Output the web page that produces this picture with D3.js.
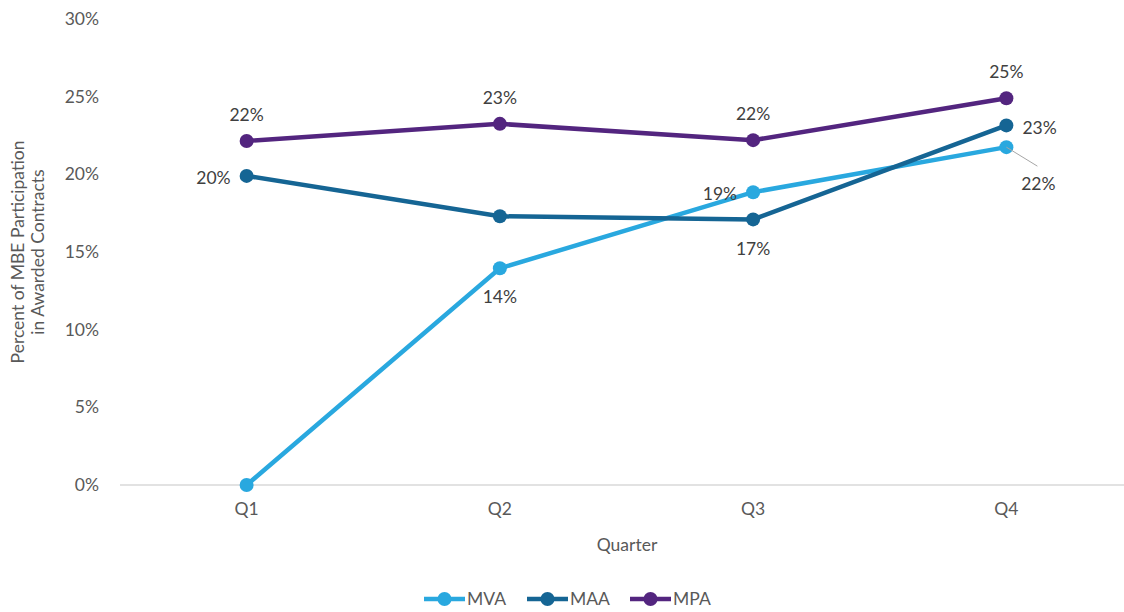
<!DOCTYPE html>
<html>
<head>
<meta charset="utf-8">
<script src="https://cdn.jsdelivr.net/npm/d3@7"></script>
<style>
  body { margin: 0; background: #fff; }
  svg { font-family: Lato, "Open Sans", sans-serif; }
</style>
</head>
<body>
<svg id="chart" width="1124" height="612"></svg>
<script>
// chart data
var quarters = ["Q1", "Q2", "Q3", "Q4"];
var mvaValues = [0, 13.95, 18.85, 21.75];
var maaValues = [19.9, 17.3, 17.1, 23.15];
var mpaValues = [22.15, 23.25, 22.2, 24.9];
var yTicks = [0, 5, 10, 15, 20, 25, 30];

// label placement per point: null = no label
var mvaLabels = [null, "below", "left", "leader"];
var maaLabels = ["left", null, "below", "right"];
var mpaLabels = ["above", "above", "above", "above"];

var series = [
    {name: "MVA", values: mvaValues, labels: mvaLabels, color: "#29a8df"},
    {name: "MAA", values: maaValues, labels: maaLabels, color: "#156594"},
    {name: "MPA", values: mpaValues, labels: mpaLabels, color: "#53257f"}
];

var fontSize = 17.5;

var svg = d3.select("#chart"),
    margin = {left: 120, right: -9, top: 19, bottom: 127},
    width = 1124 - margin.left - margin.right,
    height = 612 - margin.top - margin.bottom;

var g = svg.append("g").attr("transform", "translate(" + margin.left + "," + margin.top + ")");

var x = d3.scalePoint().domain(quarters).range([0, width]).padding(0.5);
var y = d3.scaleLinear().domain([0, 30]).range([height, 0]);

// y tick labels (no gridlines in the reference)
g.selectAll(".ytick").data(yTicks).enter().append("text")
    .attr("x", -21)
    .attr("y", function(d) { return y(d); })
    .attr("dy", "0.35em")
    .attr("text-anchor", "end")
    .attr("fill", "#595959")
    .attr("font-size", fontSize)
    .text(function(d) { return d + "%"; });

// baseline
g.append("line")
    .attr("x1", 0).attr("x2", width)
    .attr("y1", y(0)).attr("y2", y(0))
    .attr("stroke", "#d9d9d9").attr("stroke-width", 1.3);

// x tick labels
g.selectAll(".xtick").data(quarters).enter().append("text")
    .attr("x", function(d) { return x(d); })
    .attr("y", height + 30)
    .attr("text-anchor", "middle")
    .attr("fill", "#595959")
    .attr("font-size", fontSize)
    .text(function(d) { return d; });

// axis titles
svg.append("text")
    .attr("x", 627).attr("y", 551)
    .attr("text-anchor", "middle")
    .attr("fill", "#595959")
    .attr("font-size", fontSize)
    .text("Quarter");

var yTitle = svg.append("text")
    .attr("transform", "translate(24," + (margin.top + height / 2) + ") rotate(-90)")
    .attr("text-anchor", "middle")
    .attr("fill", "#595959")
    .attr("font-size", fontSize);
yTitle.append("tspan").attr("x", 0).attr("dy", 0).text("Percent of MBE Participation");
yTitle.append("tspan").attr("x", 0).attr("dy", 20).text("in Awarded Contracts");

var line = d3.line()
    .x(function(d, i) { return x(quarters[i]); })
    .y(function(d) { return y(d); });

series.forEach(function(s) {
    g.append("path")
        .datum(s.values)
        .attr("fill", "none")
        .attr("stroke", s.color)
        .attr("stroke-width", 4.5)
        .attr("d", line);
});

series.forEach(function(s) {
    g.selectAll(".dot-" + s.name).data(s.values).enter().append("circle")
        .attr("cx", function(d, i) { return x(quarters[i]); })
        .attr("cy", function(d) { return y(d); })
        .attr("r", 7)
        .attr("fill", s.color);
});

// data labels
series.forEach(function(s) {
    s.values.forEach(function(v, i) {
        var pos = s.labels[i];
        if (!pos) return;
        var px = x(quarters[i]), py = y(v),
            lx = px, ly = py, anchor = "middle";
        if (pos === "above") { ly = py - 26; }
        else if (pos === "below") { ly = py + 29; }
        else if (pos === "left") { lx = px - 16; ly = py + 2; anchor = "end"; }
        else if (pos === "right") { lx = px + 16; ly = py + 2; anchor = "start"; }
        else if (pos === "leader") {
            lx = px + 32; ly = py + 37;
            g.append("line")
                .attr("x1", px).attr("y1", py)
                .attr("x2", px + 31).attr("y2", py + 19)
                .attr("stroke", "#a6a6a6").attr("stroke-width", 1);
        }
        g.append("text")
            .attr("x", lx).attr("y", ly)
            .attr("dy", "0.35em")
            .attr("text-anchor", anchor)
            .attr("fill", "#404040")
            .attr("font-size", fontSize)
            .text(Math.round(v) + "%");
    });
});

// legend
var legend = svg.append("g").attr("transform", "translate(424,599)");
var legendItem = legend.selectAll("g").data(series).enter().append("g")
    .attr("transform", function(d, i) { return "translate(" + [0, 103, 206][i] + ",0)"; });
legendItem.append("line")
    .attr("x1", 0).attr("x2", 41)
    .attr("stroke", function(d) { return d.color; })
    .attr("stroke-width", 4.5);
legendItem.append("circle")
    .attr("cx", 20.5).attr("r", 7)
    .attr("fill", function(d) { return d.color; });
legendItem.append("text")
    .attr("x", 43).attr("dy", "0.35em")
    .attr("fill", "#595959")
    .attr("font-size", fontSize)
    .text(function(d) { return d.name; });
</script>
</body>
</html>
